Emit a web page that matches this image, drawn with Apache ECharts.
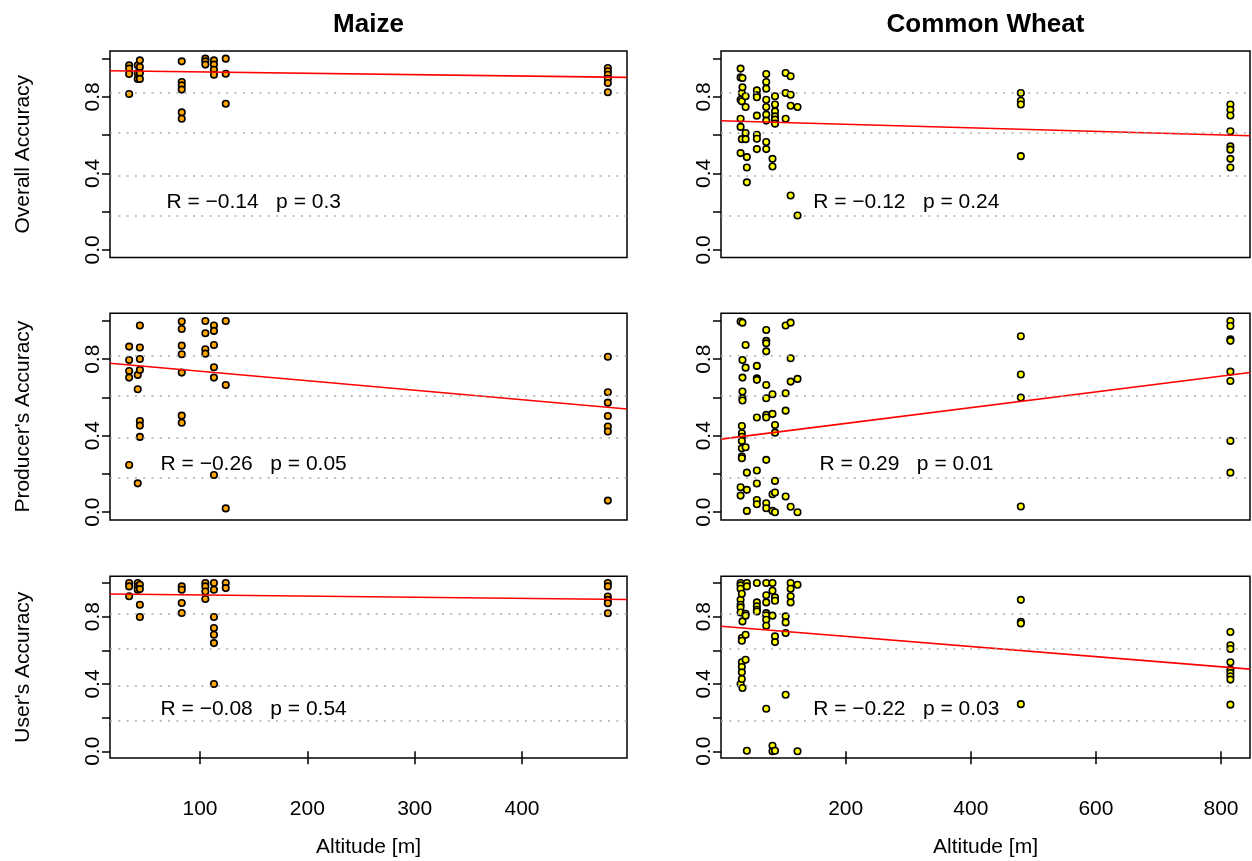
<!DOCTYPE html>
<html>
<head>
<meta charset="utf-8">
<title>Accuracy vs altitude</title>
<script src="https://cdn.jsdelivr.net/npm/echarts@6/dist/echarts.min.js"></script>
<style>
  html, body { margin: 0; padding: 0; background: #fff; }
  #main { width: 1252px; height: 861px; }
</style>
</head>
<body>
<div id="main"></div>
<script>
var cropTitles = ['Maize', 'Common Wheat'];
var metricNames = ['Overall Accuracy', "Producer's Accuracy", "User's Accuracy"];

// site altitudes [m]; the value arrays below are grouped in the same order
var maizeAlt = [34, 42, 44, 83, 105, 113, 124, 480];
var maizeOverall = [
  [0.965, 0.948, 0.92, 0.815],
  [0.965, 0.925, 0.894],
  [0.991, 0.956, 0.925, 0.894],
  [0.986, 0.878, 0.86, 0.838, 0.719, 0.686],
  [1.0, 0.986, 0.969],
  [0.991, 0.969, 0.942, 0.916],
  [1.0, 0.921, 0.764],
  [0.951, 0.934, 0.916, 0.895, 0.873, 0.824]
];
var maizeProducer = [
  [0.866, 0.796, 0.738, 0.704, 0.247],
  [0.718, 0.643, 0.151],
  [0.976, 0.861, 0.801, 0.744, 0.477, 0.453, 0.394],
  [0.997, 0.958, 0.871, 0.826, 0.73, 0.505, 0.468],
  [1.0, 0.936, 0.852, 0.829],
  [0.976, 0.948, 0.874, 0.758, 0.704, 0.195],
  [1.0, 0.665, 0.02],
  [0.813, 0.627, 0.573, 0.503, 0.448, 0.422, 0.061]
];
var maizeUser = [
  [1.0, 0.98, 0.921],
  [1.0, 0.98, 0.96],
  [0.99, 0.964, 0.871, 0.798],
  [0.98, 0.96, 0.881, 0.822],
  [1.0, 0.98, 0.95, 0.905],
  [1.0, 0.96, 0.798, 0.733, 0.693, 0.643, 0.4],
  [1.0, 0.97],
  [1.0, 0.98, 0.92, 0.9, 0.88, 0.82]
];

var wheatAlt = [32, 34, 35, 40, 42, 58, 73, 83, 87, 104, 112, 123, 480, 815];
var wheatOverall = [
  [0.948, 0.902, 0.785, 0.686, 0.643, 0.506],
  [0.82, 0.777, 0.579],
  [0.899, 0.85],
  [0.803, 0.747, 0.611, 0.579],
  [0.485, 0.431, 0.353],
  [0.834, 0.808, 0.798, 0.702, 0.602, 0.581, 0.527],
  [0.92, 0.878, 0.843, 0.785, 0.747, 0.707, 0.676, 0.564, 0.527],
  [0.476, 0.436],
  [0.803, 0.76, 0.724, 0.698, 0.681, 0.66],
  [0.925, 0.82, 0.686],
  [0.908, 0.811, 0.754, 0.284],
  [0.747, 0.18],
  [0.82, 0.78, 0.76, 0.49],
  [0.76, 0.733, 0.703, 0.62, 0.541, 0.524, 0.476, 0.431]
];
var wheatProducer = [
  [0.997, 0.131, 0.087],
  [0.451, 0.413, 0.395, 0.373, 0.334, 0.291, 0.282],
  [0.991, 0.796, 0.704, 0.631, 0.596, 0.584],
  [0.874, 0.756, 0.34],
  [0.207, 0.117, 0.007],
  [0.765, 0.7, 0.692, 0.495, 0.218, 0.15, 0.064, 0.042],
  [0.953, 0.896, 0.883, 0.841, 0.665, 0.596, 0.509, 0.495, 0.274, 0.047, 0.021],
  [0.617, 0.514, 0.094, 0.007],
  [0.456, 0.416, 0.164, 0.103, 0.0],
  [0.976, 0.622, 0.531, 0.082],
  [0.991, 0.805, 0.683, 0.029],
  [0.697, 0.0],
  [0.92, 0.72, 0.6, 0.03],
  [1.0, 0.974, 0.904, 0.896, 0.735, 0.686, 0.373, 0.207]
];
var wheatUser = [
  [1.0, 0.986, 0.966, 0.901, 0.871, 0.855, 0.825, 0.4],
  [0.936, 0.673, 0.657, 0.529, 0.501, 0.469, 0.43],
  [0.772, 0.376],
  [0.817, 0.806, 0.693, 0.544],
  [1.0, 0.98, 0.003],
  [1.0, 0.885, 0.861, 0.841, 0.831],
  [1.0, 0.927, 0.885, 0.821, 0.808, 0.782, 0.746, 0.253],
  [1.0, 0.954, 0.806, 0.033, 0.0],
  [0.915, 0.895, 0.683, 0.649, 0.003],
  [0.802, 0.766, 0.703, 0.336],
  [1.0, 0.966, 0.921, 0.885],
  [0.99, 0.0],
  [0.9, 0.77, 0.76, 0.28],
  [0.709, 0.63, 0.608, 0.529, 0.485, 0.465, 0.446, 0.426, 0.277]
];

// regression lines: [intercept, slope per metre]
var maizeFit = [[0.938, -0.0000727], [0.787, -0.000496], [0.936, -0.0000685]];
var wheatFit = [[0.675, -0.0000924], [0.382, 0.000412], [0.743, -0.000301]];

var maizeStats = ['R = \u22120.14   p = 0.3', 'R = \u22120.26   p = 0.05', 'R = \u22120.08   p = 0.54'];
var wheatStats = ['R = \u22120.12   p = 0.24', 'R = 0.29   p = 0.01', 'R = \u22120.22   p = 0.03'];
var statsX = [150, 297];   // altitude at the centre of the note
var statsY = 0.25;

var yTicks = [0, 0.2, 0.4, 0.6, 0.8, 1.0];
var yLabels = [0, 0.4, 0.8];
var maizeXTicks = [100, 200, 300, 400];
var wheatXTicks = [200, 400, 600, 800];

// layout in px
var colLeft = [110, 721], colWidth = [517, 529];
var rowTop = [51, 313.3, 576.3], rowHeight = [206.5, 206.6, 181.7];
var FONT = "'Liberation Sans', Arial, Helvetica, sans-serif";
var yMin = -0.04, yMax = 1.04;

var crops = [
  { alt: maizeAlt, values: [maizeOverall, maizeProducer, maizeUser], fit: maizeFit,
    stats: maizeStats, ticks: maizeXTicks, color: '#FFA500' },
  { alt: wheatAlt, values: [wheatOverall, wheatProducer, wheatUser], fit: wheatFit,
    stats: wheatStats, ticks: wheatXTicks, color: '#FFFF00' }
];

// R style axis range: data range padded by 4 %
function paddedRange(arr) {
  var lo = Math.min.apply(null, arr), hi = Math.max.apply(null, arr);
  var d = (hi - lo) * 0.04;
  return [lo - d, hi + d];
}

var grids = [], xAxes = [], yAxes = [], series = [], graphics = [];

for (var c = 0; c < 2; c++) {
  var crop = crops[c];
  var xr = paddedRange(crop.alt);
  for (var r = 0; r < 3; r++) {
    var i = grids.length;
    var bottom = r === 2;
    grids.push({
      left: colLeft[c], top: rowTop[r], width: colWidth[c], height: rowHeight[r],
      show: true, borderColor: '#000', borderWidth: 1.5, backgroundColor: 'transparent'
    });
    xAxes.push({
      gridIndex: i, type: 'value', min: xr[0], max: xr[1],
      axisLine: { show: false }, splitLine: { show: false },
      axisTick: { show: bottom, customValues: crop.ticks, length: 13, lineStyle: { color: '#000', width: 1.5 } },
      axisLabel: { show: bottom, customValues: crop.ticks, margin: 41, fontSize: 21, color: '#000', fontFamily: FONT },
      name: bottom ? 'Altitude [m]' : '', nameLocation: 'middle', nameGap: 79,
      nameTextStyle: { fontSize: 21, color: '#000', fontFamily: FONT }
    });
    yAxes.push({
      gridIndex: i, type: 'value', min: yMin, max: yMax,
      axisLine: { show: false }, splitLine: { show: false },
      axisTick: { show: true, customValues: yTicks, length: 8, lineStyle: { color: '#000', width: 1.5 } },
      axisLabel: { customValues: yLabels, rotate: 90, margin: 6, fontSize: 21, color: '#000', fontFamily: FONT,
        formatter: function (v) { return v.toFixed(1); } },
      name: c === 0 ? metricNames[r] : '', nameLocation: 'middle', nameRotate: 90, nameGap: 76,
      nameTextStyle: { fontSize: 21, color: '#000', fontFamily: FONT }
    });

    // dotted reference lines, R grid(nx = NA, ny = 5)
    var gl = [];
    for (var k = 1; k < 5; k++) gl.push({ yAxis: yMin + k * (yMax - yMin) / 5 });
    series.push({
      type: 'line', xAxisIndex: i, yAxisIndex: i, data: [], z: 1, silent: true,
      markLine: { silent: true, symbol: ['none', 'none'], label: { show: false }, animation: false,
        lineStyle: { type: [2, 6.3], color: '#aaaaaa', width: 1.5 }, data: gl }
    });

    var pts = [];
    var vals = crop.values[r];
    for (var s = 0; s < crop.alt.length; s++) {
      for (var j = 0; j < vals[s].length; j++) pts.push([crop.alt[s], vals[s][j]]);
    }
    series.push({
      type: 'scatter', xAxisIndex: i, yAxisIndex: i, data: pts, z: 3,
      symbol: 'circle', symbolSize: 6.5,
      itemStyle: { color: crop.color, borderColor: '#000', borderWidth: 1.6, opacity: 1 }
    });

    var f = crop.fit[r];
    series.push({
      type: 'line', xAxisIndex: i, yAxisIndex: i, z: 4, showSymbol: false, symbol: 'none',
      data: [[xr[0], f[0] + f[1] * xr[0]], [xr[1], f[0] + f[1] * xr[1]]],
      lineStyle: { color: '#FF0000', width: 1.6 }
    });
  }
  graphics.push({
    type: 'text', x: colLeft[c] + colWidth[c] / 2, y: 25,
    style: { text: cropTitles[c], fontSize: 26, fontWeight: 'bold', fontFamily: FONT, fill: '#000',
      align: 'center', verticalAlign: 'middle', textAlign: 'center', textVerticalAlign: 'middle' }
  });
}

var myChart = echarts.init(document.getElementById('main'));
var option = {
  animation: false,
  backgroundColor: '#fff',
  grid: grids,
  xAxis: xAxes,
  yAxis: yAxes,
  series: series,
  graphic: graphics
};
myChart.setOption(option);

// R / p notes, placed at data coordinates through the grids
for (var g = 0; g < 6; g++) {
  var col = g < 3 ? 0 : 1;
  var pos = myChart.convertToPixel({ gridIndex: g }, [statsX[col], statsY]);
  graphics.push({
    type: 'text', x: pos[0], y: pos[1], z: 10,
    style: { text: crops[col].stats[g % 3], fontSize: 21, fontFamily: FONT, fill: '#000',
      align: 'center', verticalAlign: 'middle', textAlign: 'center', textVerticalAlign: 'middle' }
  });
}
myChart.setOption({ graphic: graphics });
</script>
</body>
</html>
